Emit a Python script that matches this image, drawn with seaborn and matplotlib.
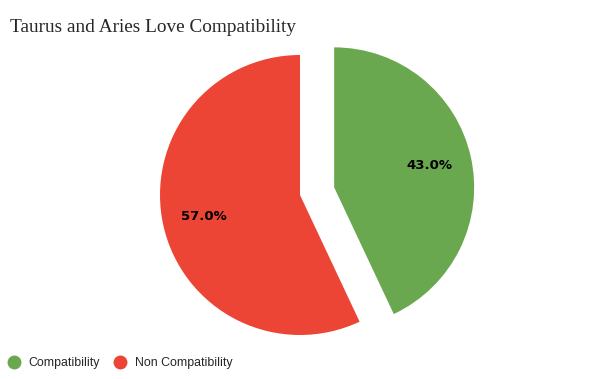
import matplotlib
matplotlib.use('Agg')
import matplotlib.pyplot as plt
import seaborn as sns
from matplotlib.lines import Line2D

labels = ['Compatibility', 'Non Compatibility']
values = [43.0, 57.0]
colors = ['#6aa84f', '#ec4536']
explode = [0.25, 0]

sns.set_theme(style='white')
plt.rcParams['font.family'] = ['Liberation Sans', 'DejaVu Sans']

fig = plt.figure(figsize=(6, 3.79), dpi=100)
ax = fig.add_axes([0, 0, 1, 1])

wedges, texts, autotexts = ax.pie(values, colors=colors, explode=explode, startangle=90,
                                  counterclock=False, autopct='%1.1f%%', pctdistance=0.7,
                                  radius=1, wedgeprops={'linewidth': 0})
for t in autotexts:
    t.set_fontsize(9.5)
    t.set_fontweight('bold')
    t.set_color('black')
    t.set_family('DejaVu Sans')

# radius = 140 px, centre at (300, 195) px from top-left
r = 140
ax.set_xlim(-300 / r, 300 / r)
ax.set_ylim(-184 / r, 195 / r)
ax.set_aspect('auto')
ax.axis('off')

fig.text(10 / 600, 1 - 27 / 379, 'Taurus and Aries Love Compatibility',
         family='Liberation Serif', fontsize=13.9, va='center', ha='left')

handles = [Line2D([], [], marker='o', linestyle='', markersize=9,
                  markerfacecolor=c, markeredgecolor=c) for c in colors]
fig.legend(handles, labels, loc='center left', bbox_to_anchor=(0.0, 1 - 363 / 379),
           ncol=2, frameon=False, fontsize=8.9, handletextpad=0.5, columnspacing=0.9,
           handlelength=1.4, borderaxespad=0)

fig.savefig('out.png', dpi=100)
